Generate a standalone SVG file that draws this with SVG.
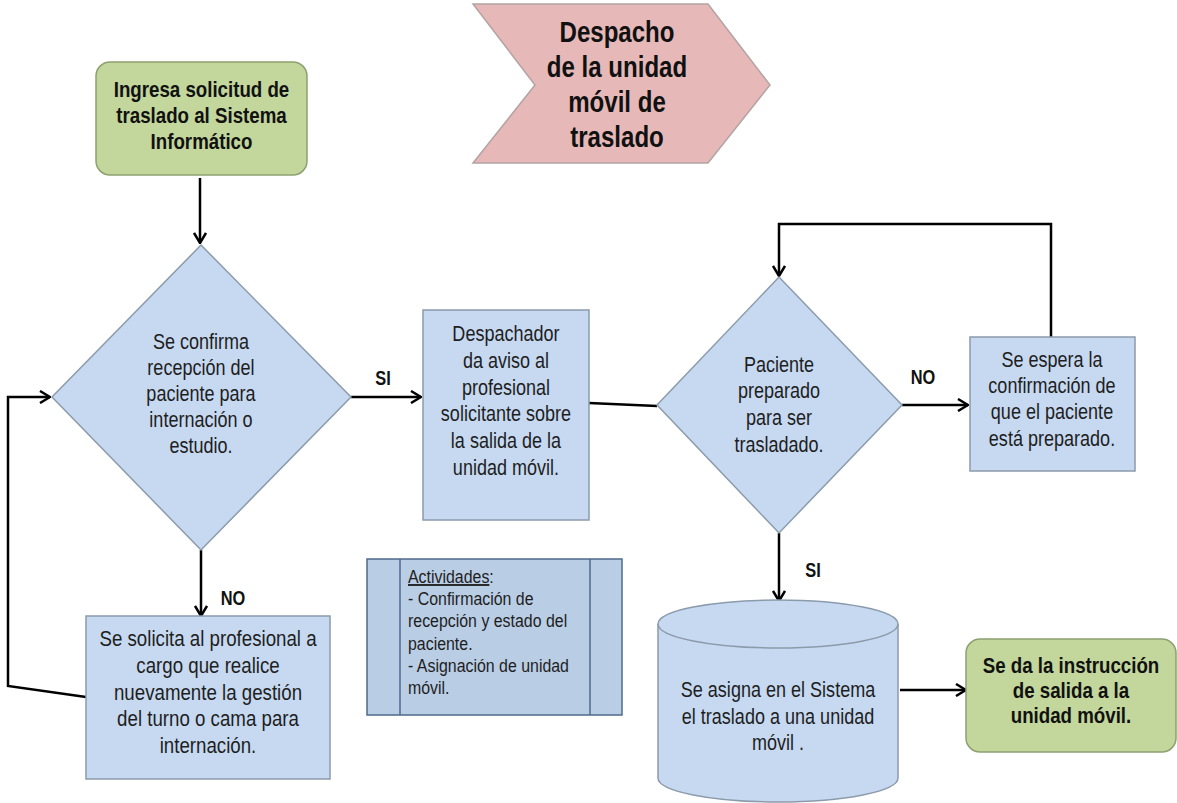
<svg xmlns="http://www.w3.org/2000/svg" width="1177" height="803" viewBox="0 0 1177 803">
<style>
.blue{fill:#c6d9f1;stroke:#8c9bab;stroke-width:1.5}
.green{fill:#c3d69b;stroke:#8ea070;stroke-width:1.5}
.pink{fill:#e6b9b8;stroke:#b3a3a3;stroke-width:1.5}
.act{fill:#b9cde5;stroke:#4f6a8c;stroke-width:1.5}
.t{font-family:"Liberation Sans",Arial,sans-serif;font-size:22px;fill:#1e1e1e;text-anchor:middle}
.b{font-family:"Liberation Sans",Arial,sans-serif;font-size:22px;font-weight:bold;fill:#111;text-anchor:middle}
.h{font-family:"Liberation Sans",Arial,sans-serif;font-size:29px;font-weight:bold;fill:#111;text-anchor:middle}
.lab{font-family:"Liberation Sans",Arial,sans-serif;font-size:20px;font-weight:bold;fill:#111;text-anchor:middle}
.a{font-family:"Liberation Sans",Arial,sans-serif;font-size:18.5px;fill:#1e1e1e}
.c{fill:none;stroke:#000;stroke-width:2.5}
</style>
<defs>
<marker id="arr" viewBox="0 0 12 14" refX="11" refY="7" markerWidth="12" markerHeight="14" markerUnits="userSpaceOnUse" orient="auto">
<path d="M1,1 L11,7 L1,13" fill="none" stroke="#000" stroke-width="2.5"/>
</marker>
</defs>
<rect width="1177" height="803" fill="#fff"/>

<g id="connectors">
<line class="c" x1="200" y1="178" x2="200" y2="243" marker-end="url(#arr)"/>
<line class="c" x1="351" y1="397" x2="421" y2="397" marker-end="url(#arr)"/>
<line class="c" x1="589" y1="403" x2="657" y2="406"/>
<line class="c" x1="902" y1="405" x2="968" y2="405" marker-end="url(#arr)"/>
<polyline class="c" points="1051,337 1051,224 779,224 779,276" marker-end="url(#arr)"/>
<line class="c" x1="779" y1="533" x2="779" y2="601" marker-end="url(#arr)"/>
<line class="c" x1="900" y1="690" x2="966" y2="690" marker-end="url(#arr)"/>
<line class="c" x1="201" y1="550" x2="201" y2="616" marker-end="url(#arr)"/>
<polyline class="c" points="86,697 8,686 8,397 50,397" marker-end="url(#arr)"/>
<g transform="translate(383,0) scale(0.82,1)"><text class="lab" x="0" y="385">SI</text></g>
<g transform="translate(923,0) scale(0.82,1)"><text class="lab" x="0" y="384">NO</text></g>
<g transform="translate(233,0) scale(0.82,1)"><text class="lab" x="0" y="605">NO</text></g>
<g transform="translate(813,0) scale(0.82,1)"><text class="lab" x="0" y="577">SI</text></g>
</g>

<g id="header">
<polygon class="pink" points="473,4 708,4 770,85 708,163 473,163 535,85"/>
<g transform="translate(617,0) scale(0.83,1)">
<text class="h" x="0" y="42">Despacho</text>
<text class="h" x="0" y="77">de la unidad</text>
<text class="h" x="0" y="112">móvil de</text>
<text class="h" x="0" y="147">traslado</text>
</g>
</g>

<g id="start">
<rect class="green" x="96" y="62" width="211" height="113" rx="14"/>
<g transform="translate(201.5,0) scale(0.85,1)">
<text class="b" x="0" y="97">Ingresa solicitud de</text>
<text class="b" x="0" y="123">traslado al Sistema</text>
<text class="b" x="0" y="149">Informático</text>
</g>
</g>

<g id="decision1">
<polygon class="blue" points="201,245 351,397 201,550 52,397"/>
<g transform="translate(201,0) scale(0.82,1)">
<text class="t" x="0" y="349">Se confirma</text>
<text class="t" x="0" y="375">recepción del</text>
<text class="t" x="0" y="401">paciente para</text>
<text class="t" x="0" y="427">internación o</text>
<text class="t" x="0" y="453">estudio.</text>
</g>
</g>

<g id="dispatcher">
<rect class="blue" x="423" y="310" width="166" height="210"/>
<g transform="translate(506,0) scale(0.82,1)">
<text class="t" x="0" y="341">Despachador</text>
<text class="t" x="0" y="368">da aviso al</text>
<text class="t" x="0" y="395">profesional</text>
<text class="t" x="0" y="421">solicitante sobre</text>
<text class="t" x="0" y="448">la salida  de la</text>
<text class="t" x="0" y="475">unidad móvil.</text>
</g>
</g>

<g id="decision2">
<polygon class="blue" points="779,277 902,405 779,533 657,405"/>
<g transform="translate(779,0) scale(0.82,1)">
<text class="t" x="0" y="372">Paciente</text>
<text class="t" x="0" y="398">preparado</text>
<text class="t" x="0" y="425">para ser</text>
<text class="t" x="0" y="452">trasladado.</text>
</g>
</g>

<g id="wait">
<rect class="blue" x="970" y="337" width="165" height="134"/>
<g transform="translate(1052,0) scale(0.82,1)">
<text class="t" x="0" y="367">Se espera la</text>
<text class="t" x="0" y="393">confirmación de</text>
<text class="t" x="0" y="419">que el paciente</text>
<text class="t" x="0" y="446">está preparado.</text>
</g>
</g>

<g id="request">
<rect class="blue" x="86" y="616" width="244" height="163"/>
<g transform="translate(208,0) scale(0.85,1)">
<text class="t" x="0" y="646">Se solicita al profesional a</text>
<text class="t" x="0" y="673">cargo que realice</text>
<text class="t" x="0" y="700">nuevamente la gestión</text>
<text class="t" x="0" y="726">del turno o cama para</text>
<text class="t" x="0" y="753">internación.</text>
</g>
</g>

<g id="activities">
<rect class="act" x="367" y="559" width="255" height="156"/>
<line class="act" x1="400" y1="559" x2="400" y2="715"/>
<line class="act" x1="590" y1="559" x2="590" y2="715"/>
<g transform="translate(408,0) scale(0.86,1)">
<text class="a" x="0" y="583"><tspan text-decoration="underline">Actividades</tspan>:</text>
<text class="a" x="0" y="605">- Confirmación de</text>
<text class="a" x="0" y="627">recepción  y estado del</text>
<text class="a" x="0" y="650">paciente.</text>
<text class="a" x="0" y="672">- Asignación de unidad</text>
<text class="a" x="0" y="694">móvil.</text>
</g>
</g>

<g id="database">
<path class="blue" d="M658,624 A120,24 0 0 1 898,624 L898,778 A120,24 0 0 1 658,778 Z"/>
<path class="blue" d="M658,624 A120,24 0 0 0 898,624" fill="none"/>
<g transform="translate(778,0) scale(0.82,1)">
<text class="t" x="0" y="697">Se asigna en el Sistema</text>
<text class="t" x="0" y="724">el traslado  a una unidad</text>
<text class="t" x="0" y="750">móvil .</text>
</g>
</g>

<g id="end">
<rect class="green" x="966" y="639" width="210" height="113" rx="14"/>
<g transform="translate(1071,0) scale(0.85,1)">
<text class="b" x="0" y="673">Se da la instrucción</text>
<text class="b" x="0" y="698">de salida a la</text>
<text class="b" x="0" y="723">unidad móvil.</text>
</g>
</g>
</svg>
